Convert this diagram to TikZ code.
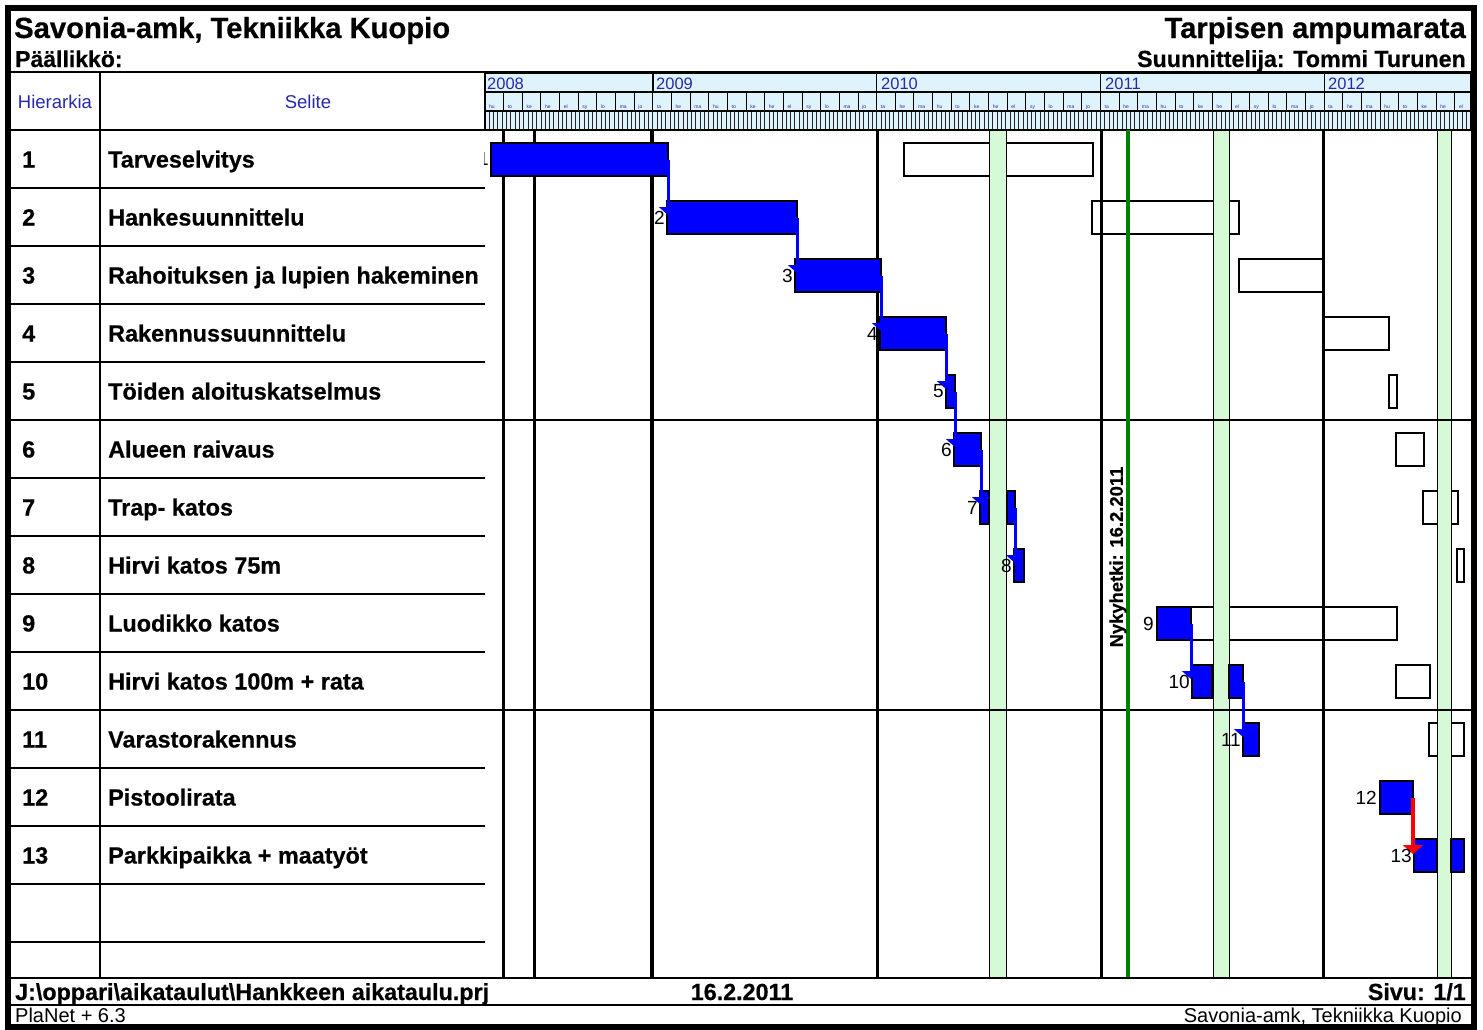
\documentclass[tikz,border=0pt]{standalone}
\usepackage{fontspec}
\setmainfont{Liberation Sans}[BoldFeatures={FakeBold=0.5}]
\usetikzlibrary{arrows.meta,calc}
\definecolor{hdrblue}{RGB}{40,40,170}
\definecolor{tlfill}{RGB}{223,243,252}
\definecolor{bandgreen}{RGB}{214,250,214}
\definecolor{nowgreen}{RGB}{0,128,0}
\definecolor{barblue}{RGB}{0,0,255}
\newcommand\gbar[5]{%
  \pgfmathsetmacro\gw{#4-#3}%
  \pgfmathsetmacro\gy{130+58*(#5-1)+13}%
  \node[#1, minimum width=\gw pt, anchor=north west] (#2) at (#3,\gy) {};}
\begin{document}
\begin{tikzpicture}[x=1pt,y=-1pt,
  bar/.style={draw=black, line width=1.2pt, fill=barblue, inner sep=0pt, outer sep=0pt, minimum height=33pt},
  planbox/.style={draw=black, line width=1.2pt, inner sep=0pt, outer sep=0pt, minimum height=33pt},
  conn/.style={draw=barblue, line width=3pt, -{Triangle[width=18pt,length=8pt]}},
  redconn/.style={draw=red, line width=4.5pt, -{Triangle[width=20pt,length=9pt]}},
  rowtxt/.style={font=\fontsize{23.4}{26}\selectfont\bfseries, anchor=base west, inner sep=0pt},
  barlbl/.style={font=\fontsize{19}{20}\selectfont, anchor=east, inner sep=0pt},
  yearlbl/.style={font=\fontsize{16.5}{17}\selectfont, text=hdrblue, anchor=base west, inner sep=0pt},
  monlbl/.style={font=\fontsize{5}{5}\selectfont, text=hdrblue, anchor=base west, inner sep=0pt},
  vline/.style={line width=3pt, black},
  band/.style={fill=bandgreen, draw=black, line width=0.8pt},
  grid/.style={line width=1.5pt, black}
]
\useasboundingbox (0,0) rectangle (1483,1029);
\fill[white] (0,0) rectangle (1483,1029);

% ---- header texts
\node[anchor=base west, inner sep=0pt, font=\fontsize{29.2}{30}\selectfont\bfseries] (title) at (14,38) {Savonia-amk, Tekniikka Kuopio};
\node[anchor=base west, inner sep=0pt, font=\fontsize{23}{24}\selectfont\bfseries] (boss) at (15,67) {Päällikkö:};
\node[anchor=base east, inner sep=0pt, font=\fontsize{29.2}{30}\selectfont\bfseries] (proj) at (1466,38) {Tarpisen ampumarata};
\node[anchor=base east, inner sep=0pt, font=\fontsize{23.3}{24}\selectfont\bfseries] (designer) at (1466,67) {Suunnittelija: Tommi Turunen};
\draw[line width=2pt] (8,72) -- (1474,72);

% ---- table header
\node[font=\fontsize{18.5}{20}\selectfont, text=hdrblue, inner sep=0pt] (hier) at (55,102) {Hierarkia};
\node[font=\fontsize{18.5}{20}\selectfont, text=hdrblue, inner sep=0pt] (sel) at (308,102) {Selite};

% ---- timeline header
\fill[tlfill] (485,73) rectangle (1471,130);
\foreach \k in {1,...,228} \draw[line width=0.9pt, black!85] ({485+4.3038*\k},111) -- ++(0,19);
\foreach \m in {1,...,52} \draw[line width=1pt] ({485+18.65*\m},92) -- ++(0,19);
\foreach \m in {9,21,33,45} \draw[line width=1.5pt] ({485+18.65*\m},73) -- ++(0,19);
\draw[line width=1.2pt] (485,73) rectangle (1471,130);
\draw[line width=1.2pt] (485,92) -- (1471,92);
\draw[line width=1.2pt] (485,111) -- (1471,111);
\node[yearlbl] (y2008) at (487,89) {2008};
\node[yearlbl] (y2009) at (656,89) {2009};
\node[yearlbl] (y2010) at (881,89) {2010};
\node[yearlbl] (y2011) at (1105,89) {2011};
\node[yearlbl] (y2012) at (1328,89) {2012};
\foreach \t [count=\i from 0] in {hu,to,ke,he,el,sy,lo,ma,jo,
  ta,he,ma,hu,to,ke,he,el,sy,lo,ma,jo,
  ta,he,ma,hu,to,ke,he,el,sy,lo,ma,jo,
  ta,he,ma,hu,to,ke,he,el,sy,lo,ma,jo,
  ta,he,ma,hu,to,ke,he,el}
  \node[monlbl] (mon\i) at ({485+18.65*\i+4},108) {\t};

% ---- left table grid
\draw[grid] (100,72) -- (100,978);
\draw[grid] (8,130) -- (1471,130);
\foreach \r in {1,...,14} \draw[grid] (8,{130+58*\r}) -- (485,{130+58*\r});

% ---- rows
\foreach \t [count=\i] in {Tarveselvitys,Hankesuunnittelu,Rahoituksen ja lupien hakeminen,Rakennussuunnittelu,Töiden aloituskatselmus,Alueen raivaus,Trap- katos,Hirvi katos 75m,Luodikko katos,Hirvi katos 100m + rata,Varastorakennus,Pistoolirata,Parkkipaikka + maatyöt}{
  \node[rowtxt] (n\i) at (22,{130+58*\i-58+37.5}) {\i};
  \node[rowtxt] (t\i) at (108,{130+58*\i-58+37.5}) {\t};
}

% ---- planned (outline) boxes
\gbar{planbox}{p1}{904}{1093}{1}
\gbar{planbox}{p2}{1092}{1239}{2}
\gbar{planbox}{p3}{1239}{1323}{3}
\gbar{planbox}{p4}{1324}{1389}{4}
\gbar{planbox}{p5}{1389}{1397}{5}
\gbar{planbox}{p6}{1396}{1424}{6}
\gbar{planbox}{p7}{1423}{1458}{7}
\gbar{planbox}{p8}{1457}{1464}{8}
\gbar{planbox}{p9}{1191}{1397}{9}
\gbar{planbox}{p10}{1396}{1430}{10}
\gbar{planbox}{p11}{1429}{1464}{11}

% ---- holiday bands
\path[band] (989,130) rectangle (1006,978);
\path[band] (1213,130) rectangle (1229,978);
\path[band] (1437,130) rectangle (1451,978);

% ---- chart lines
\draw[grid] (8,420) -- (1471,420);
\draw[grid] (8,710) -- (1471,710);
\draw[vline] (503,130) -- (503,978);
\draw[vline] (534,130) -- (534,978);
\draw[line width=4.5pt] (652,130) -- (652,978);
\draw[vline] (877,130) -- (877,978);
\draw[vline] (1101,130) -- (1101,978);
\draw[vline] (1323,130) -- (1323,978);
\draw[line width=4pt, nowgreen] (1128,130) -- (1128,978);

% ---- actual bars
\gbar{bar}{b1}{491}{668}{1}
\gbar{bar}{b2}{667}{797}{2}
\gbar{bar}{b3}{795}{881}{3}
\gbar{bar}{b4}{880}{946}{4}
\gbar{bar}{b5}{946}{955}{5}
\gbar{bar}{b6}{954}{981}{6}
\gbar{bar}{b7a}{980}{989}{7}
\gbar{bar}{b7b}{1007}{1015}{7}
\gbar{bar}{b8}{1014}{1024}{8}
\gbar{bar}{b9}{1157}{1191}{9}
\gbar{bar}{b10a}{1192}{1212}{10}
\gbar{bar}{b10b}{1229}{1243}{10}
\gbar{bar}{b11}{1243}{1259}{11}
\gbar{bar}{b12}{1380}{1413}{12}
\gbar{bar}{b13a}{1414}{1437}{13}
\gbar{bar}{b13b}{1451}{1464}{13}

% ---- connectors
\draw[conn] (b1.east) -- ($(b1.east |- b2.north)+(0,14)$);
\draw[conn] (b2.east) -- ($(b2.east |- b3.north)+(0,14)$);
\draw[conn] (b3.east) -- ($(b3.east |- b4.north)+(0,14)$);
\draw[conn] (b4.east) -- ($(b4.east |- b5.north)+(0,14)$);
\draw[conn] (b5.east) -- ($(b5.east |- b6.north)+(0,14)$);
\draw[conn] (b6.east) -- ($(b6.east |- b7a.north)+(0,14)$);
\draw[conn] (b7b.east) -- ($(b7b.east |- b8.north)+(0,14)$);
\draw[conn] (b9.east) -- ($(b9.east |- b10a.north)+(0,14)$);
\draw[conn] (b10b.east) -- ($(b10b.east |- b11.north)+(0,14)$);
\draw[redconn] (b12.east) -- ($(b12.east |- b13a.north)+(0,15)$);

% ---- bar labels
\begin{scope}
  \clip (484,130) rectangle (1471,978);
  \node[barlbl] (l1) at (489,159) {1};
\end{scope}
\node[barlbl] (l2) at ($(b2.west)+(-2,0)$) {2};
\node[barlbl] (l3) at ($(b3.west)+(-2,0)$) {3};
\node[barlbl] (l4) at ($(b4.west)+(-2,0)$) {4};
\node[barlbl] (l5) at ($(b5.west)+(-2,0)$) {5};
\node[barlbl] (l6) at ($(b6.west)+(-2,0)$) {6};
\node[barlbl] (l7) at ($(b7a.west)+(-2,0)$) {7};
\node[barlbl] (l8) at ($(b8.west)+(-2,0)$) {8};
\node[barlbl] (l9) at ($(b9.west)+(-3,0)$) {9};
\node[barlbl] (l10) at ($(b10a.west)+(-2,0)$) {10};
\node[barlbl] (l11) at ($(b11.west)+(-2,0)$) {11};
\node[barlbl] (l12) at ($(b12.west)+(-3,0)$) {12};
\node[barlbl] (l13) at ($(b13a.west)+(-2,0)$) {13};

\node[rotate=90, inner sep=0pt, font=\fontsize{18.4}{20}\selectfont\bfseries] (now) at (1118,557) {Nykyhetki: 16.2.2011};

% ---- footer
\draw[line width=2pt] (8,978) -- (1474,978);
\draw[line width=2pt] (8,1005) -- (1474,1005);
\node[anchor=base west, inner sep=0pt, font=\fontsize{23.3}{24}\selectfont\bfseries] (file) at (15,1000) {J:\textbackslash oppari\textbackslash aikataulut\textbackslash Hankkeen aikataulu.prj};
\node[anchor=base, inner sep=0pt, font=\fontsize{23.3}{24}\selectfont\bfseries] (date) at (742,1000) {16.2.2011};
\node[anchor=base east, inner sep=0pt, font=\fontsize{23.3}{24}\selectfont\bfseries] (page) at (1466,1000) {Sivu: 1/1};
\node[anchor=base west, inner sep=0pt, font=\fontsize{20}{21}\selectfont] (ver) at (15,1022) {PlaNet + 6.3};
\node[anchor=base east, inner sep=0pt, font=\fontsize{20}{21}\selectfont] (org) at (1462,1022) {Savonia-amk, Tekniikka Kuopio};

% ---- outer frame
\draw[line width=6pt] (8,8) rectangle (1474,1027);
\end{tikzpicture}
\end{document}
